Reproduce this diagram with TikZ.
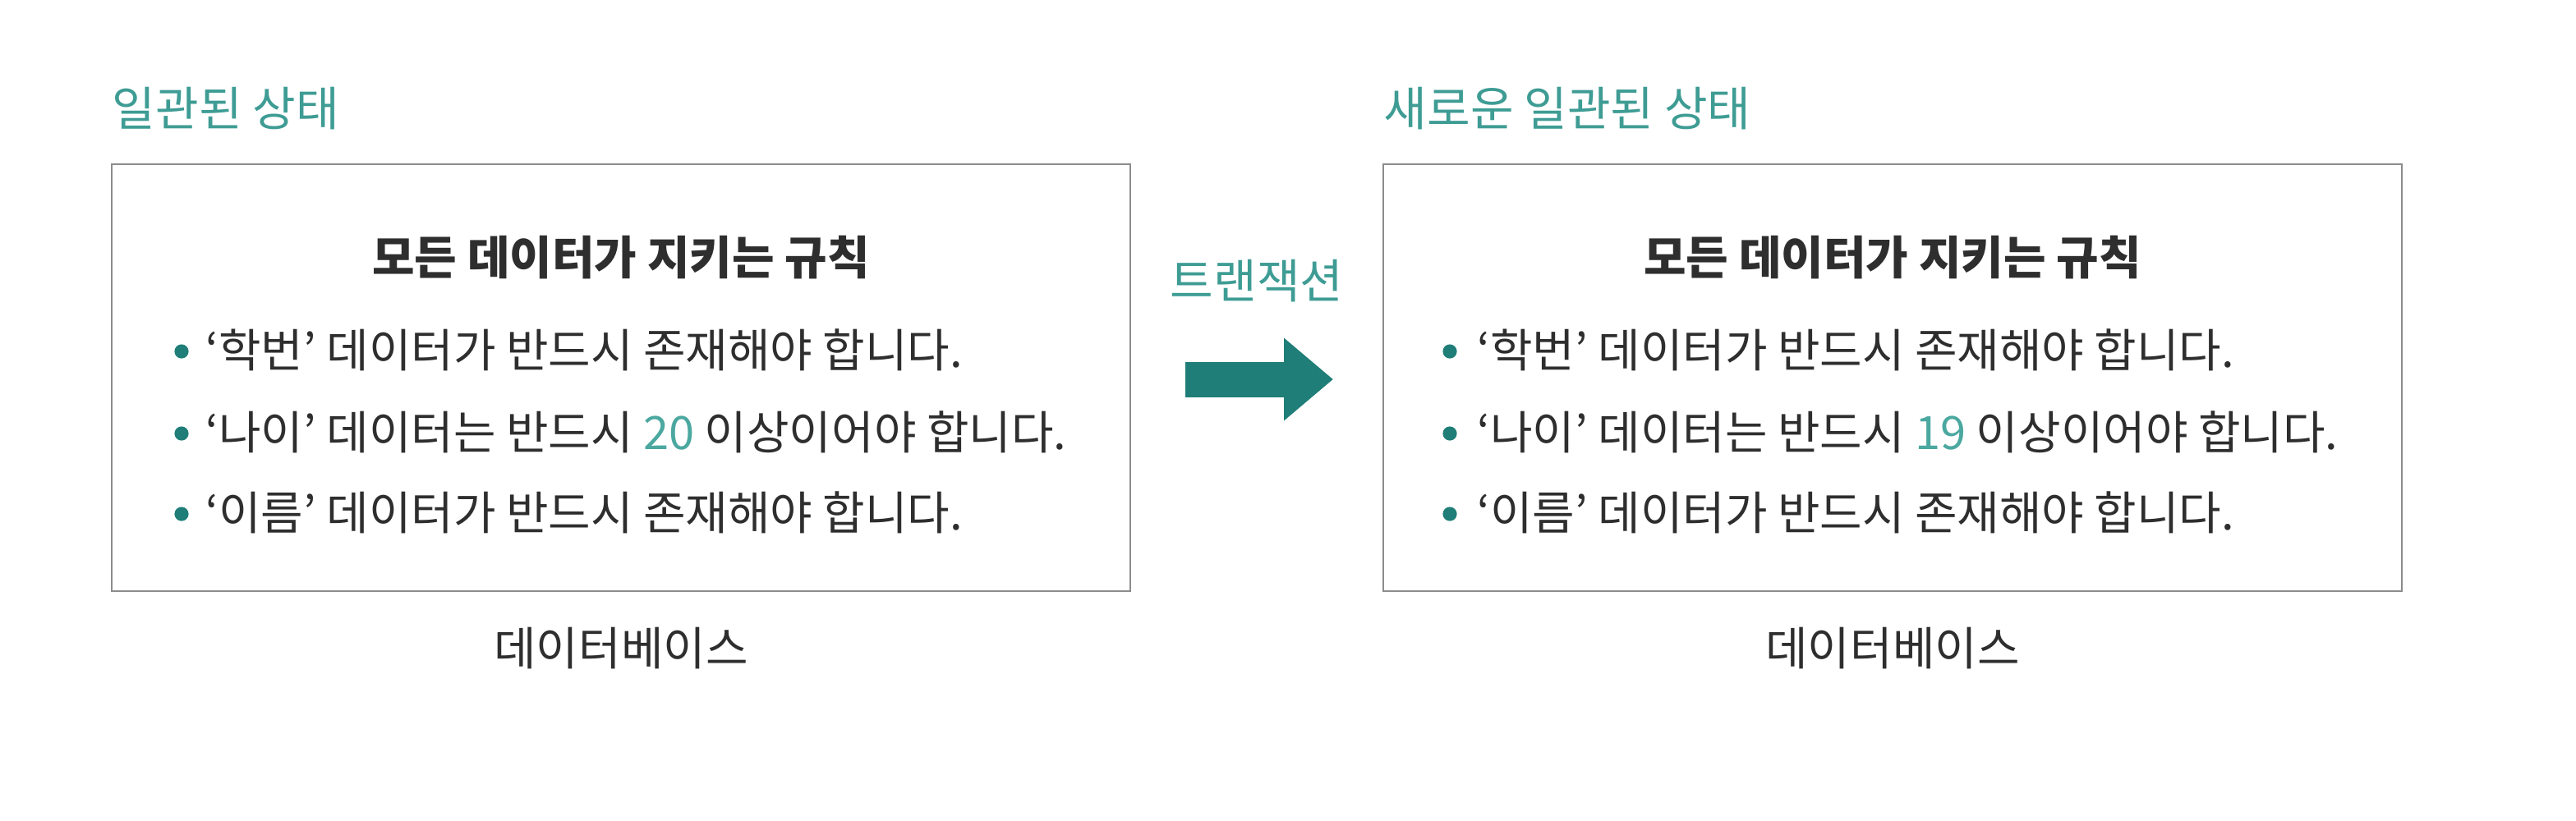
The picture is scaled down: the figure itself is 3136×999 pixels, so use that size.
\documentclass[tikz,border=0pt]{standalone}
\usepackage{fontspec}
\setmainfont{Noto Sans CJK KR}
\usetikzlibrary{arrows.meta}
\definecolor{teal1}{HTML}{1F7E77}
\definecolor{tealtitle}{HTML}{3E9C94}
\definecolor{tealnum}{HTML}{4BA8A0}
\definecolor{txt}{HTML}{2E2E2E}
\definecolor{boxline}{HTML}{8C8C8C}
\tikzset{
  dbbox/.style={draw=boxline, line width=0.5pt, minimum width=310pt, minimum height=130pt, inner sep=0pt},
  title/.style={text=tealtitle, font=\fontsize{14.3}{16}\selectfont, anchor=west, inner sep=0pt},
  heading/.style={text=txt, font=\fontsize{14}{16}\selectfont\bfseries, inner sep=0pt},
  bullettext/.style={text=txt, font=\fontsize{14}{16}\selectfont, anchor=west, inner sep=0pt},
  dot/.style={circle, fill=teal1, minimum size=4.3pt, inner sep=0pt},
  caption/.style={text=txt, font=\fontsize{14}{16}\selectfont, inner sep=0pt},
  bigarrow/.style={draw=teal1, line width=10.75pt, -{Triangle[width=24.25pt,length=15pt]}}
}
\newcommand{\num}[1]{\textcolor{tealnum}{#1}}
\begin{document}
\begin{tikzpicture}[x=0.25pt, y=-0.25pt]
\useasboundingbox (0,0) rectangle (3136,999);
% left
\node[title] (ltitle) at (136,132) {일관된 상태};
\node[dbbox] (lbox) at (756,460) {};
\node[heading] (lhead) at (756,314) {모든 데이터가 지키는 규칙};
\node[dot] (ld1) at (221,428) {};
\node[dot] (ld2) at (221,528) {};
\node[dot] (ld3) at (221,626) {};
\node[bullettext] (lt1) at (250,426) {‘학번’ 데이터가 반드시 존재해야 합니다.};
\node[bullettext] (lt2) at (250,526) {‘나이’ 데이터는 반드시 \num{20} 이상이어야 합니다.};
\node[bullettext] (lt3) at (250,624) {‘이름’ 데이터가 반드시 존재해야 합니다.};
\node[caption] (lcap) at (756,790) {데이터베이스};
% arrow
\node[text=tealtitle, font=\fontsize{14.3}{16}\selectfont, inner sep=0pt] (tlabel) at (1530,342) {트랜잭션};
\coordinate (arrS) at (1443,462);
\coordinate (arrE) at (1623,462);
\draw[bigarrow] (arrS) -- (arrE);
% right
\node[title] (rtitle) at (1684,132) {새로운 일관된 상태};
\node[dbbox] (rbox) at (2304,460) {};
\node[heading] (rhead) at (2304,314) {모든 데이터가 지키는 규칙};
\node[dot] (rd1) at (1765,428) {};
\node[dot] (rd2) at (1765,528) {};
\node[dot] (rd3) at (1765,626) {};
\node[bullettext] (rt1) at (1798,426) {‘학번’ 데이터가 반드시 존재해야 합니다.};
\node[bullettext] (rt2) at (1798,526) {‘나이’ 데이터는 반드시 \num{19} 이상이어야 합니다.};
\node[bullettext] (rt3) at (1798,624) {‘이름’ 데이터가 반드시 존재해야 합니다.};
\node[caption] (rcap) at (2304,790) {데이터베이스};
\end{tikzpicture}
\end{document}
